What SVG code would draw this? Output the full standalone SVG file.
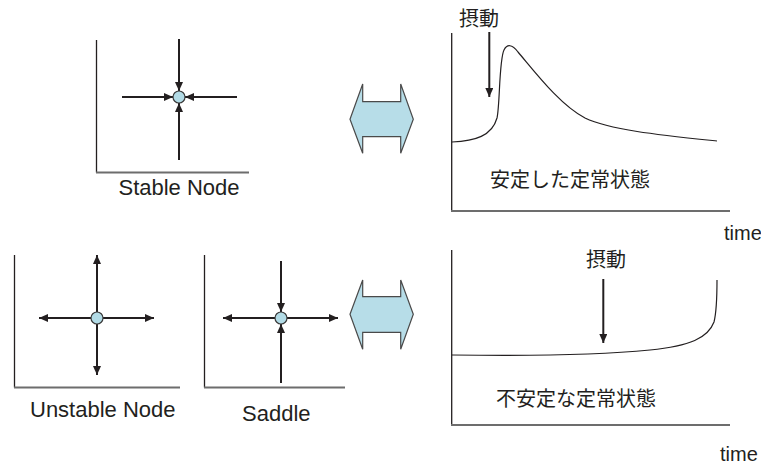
<svg xmlns="http://www.w3.org/2000/svg" width="761" height="465" viewBox="0 0 761 465">
<style>
.bg{fill:#ffffff}
.vax{stroke:#231f20;stroke-width:1.3;fill:none}
.hax{stroke:#6d6d6d;stroke-width:2;fill:none}
.ln{stroke:#231f20;stroke-width:2;fill:none}
.in{marker-end:url(#ah)}
.pt{fill:#b2dbe6;stroke:#3a3a3a;stroke-width:1.2}
.dbl{fill:#b7dde8;stroke:#4a4a4a;stroke-width:1.2}
.crv{stroke:#231f20;stroke-width:1.2;fill:none}
.lbl{font-family:"Liberation Sans",Arial,sans-serif;font-size:22px;fill:#231f20}
.tm{font-family:"Liberation Sans",Arial,sans-serif;font-size:20px;fill:#231f20}
.jp{font-family:"Liberation Sans","Noto Sans CJK JP",sans-serif;font-size:20px;fill:#231f20}
</style>
<defs>
<marker id="ah" markerUnits="userSpaceOnUse" markerWidth="10" markerHeight="9" refX="9" refY="4" orient="auto">
<path d="M0,0 L9,4 L0,8 z" fill="#231f20"/>
</marker>
</defs>
<rect class="bg" x="0" y="0" width="761" height="465"/>

<g id="stable-node">
<line class="vax" x1="96.5" y1="40" x2="96.5" y2="172.5"/>
<line class="hax" x1="96" y1="172.5" x2="249" y2="172.5"/>
<line class="ln in" x1="179" y1="39" x2="179" y2="91"/>
<line class="ln in" x1="179" y1="160" x2="179" y2="103"/>
<line class="ln in" x1="122" y1="97" x2="173" y2="97"/>
<line class="ln in" x1="237" y1="97" x2="185" y2="97"/>
<circle class="pt" cx="179" cy="97" r="6"/>
<text class="lbl" x="179" y="195" text-anchor="middle">Stable Node</text>
</g>

<g id="unstable-node">
<line class="vax" x1="14.5" y1="255" x2="14.5" y2="387.5"/>
<line class="hax" x1="14" y1="387.5" x2="180" y2="387.5"/>
<line class="ln in" x1="97" y1="312" x2="97" y2="255"/>
<line class="ln in" x1="97" y1="324" x2="97" y2="375"/>
<line class="ln in" x1="91" y1="318" x2="39" y2="318"/>
<line class="ln in" x1="103" y1="318" x2="154" y2="318"/>
<circle class="pt" cx="97" cy="318" r="6"/>
<text class="lbl" x="30" y="417">Unstable Node</text>
</g>

<g id="saddle">
<line class="vax" x1="204.5" y1="255" x2="204.5" y2="387.5"/>
<line class="hax" x1="204" y1="387.5" x2="345" y2="387.5"/>
<line class="ln in" x1="281" y1="261" x2="281" y2="312"/>
<line class="ln in" x1="281" y1="383" x2="281" y2="324"/>
<line class="ln in" x1="275" y1="318" x2="223" y2="318"/>
<line class="ln in" x1="287" y1="318" x2="338" y2="318"/>
<circle class="pt" cx="281" cy="318" r="6"/>
<text class="lbl" x="242" y="421">Saddle</text>
</g>

<g id="equiv-top">
<path class="dbl" d="M350,119.3 L362.7,84 L362.7,101.7 L400.7,101.7 L400.7,84 L413.3,119.3 L400.7,153.3 L400.7,136.7 L362.7,136.7 L362.7,153.3 Z"/>
</g>

<g id="equiv-bottom">
<path class="dbl" d="M350,314.3 L362.7,280 L362.7,296.7 L400.7,296.7 L400.7,280 L413.3,314.3 L400.7,349.3 L400.7,332.3 L362.7,332.3 L362.7,349.3 Z"/>
</g>

<g id="stable-response">
<line class="vax" x1="451.7" y1="33" x2="451.7" y2="211"/>
<line class="hax" x1="451" y1="211" x2="730" y2="211"/>
<path class="crv" d="M452,142 C475,141 492,136 497,118 C500,105 499,60 504,50 C507,44 512,44 518,52 C535,72 560,105 585,118 C610,130 660,135 717,141"/>
<text class="jp" x="459" y="26">摂動</text>
<line class="ln in" x1="489.3" y1="32" x2="489.3" y2="97"/>
<text class="jp" x="490" y="187">安定した定常状態</text>
<text class="tm" x="724" y="240">time</text>
</g>

<g id="unstable-response">
<line class="vax" x1="451.7" y1="250" x2="451.7" y2="425"/>
<line class="hax" x1="451" y1="425" x2="730" y2="425"/>
<path class="crv" d="M452,355 C520,356 600,355 650,350 C690,346 708,338 714,322 C717,310 717,295 717,280"/>
<text class="jp" x="586" y="267">摂動</text>
<line class="ln in" x1="603.3" y1="279" x2="603.3" y2="343"/>
<text class="jp" x="496" y="406">不安定な定常状態</text>
<text class="tm" x="720" y="461">time</text>
</g>

<g id="connectors"></g>
</svg>
